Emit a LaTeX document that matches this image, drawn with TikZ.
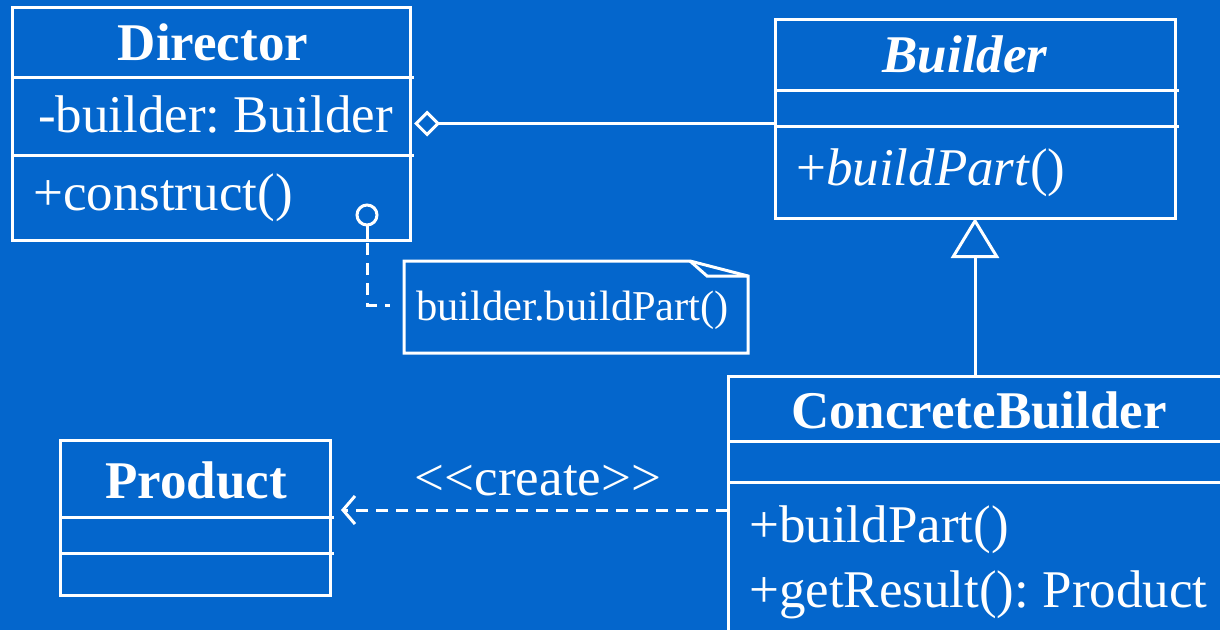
\documentclass[tikz,border=0pt]{standalone}
\usepackage{fontspec}
\setmainfont{Liberation Serif}
\usetikzlibrary{arrows.meta}
\definecolor{bgblue}{HTML}{0466CC}
\newcommand\umlsize{\fontsize{53}{60}\selectfont\frenchspacing}
\newcommand\notesize{\fontsize{42.5}{50}\selectfont}
\tikzset{
  wline/.style={draw=white, line width=3pt},
  umlbox/.style={wline, anchor=north west, inner sep=0pt, outer sep=0pt},
  umltext/.style={text=white, font=\umlsize, inner sep=0pt},
  dashline/.style={wline, dash pattern=on 12pt off 8pt}
}

\begin{document}
\begin{tikzpicture}[x=1pt,y=-1pt]
\fill [bgblue] (0,0) rectangle (1220,630);
\useasboundingbox (0,0) rectangle (1220,630);
\clip (0,0) rectangle (1220,630);
% class boxes
\node [umlbox, minimum width=398pt, minimum height=233pt] (director) at (12,7) {};
\node [umlbox, minimum width=400pt, minimum height=199pt] (builder) at (775,19) {};
\node [umlbox, minimum width=510pt, minimum height=270pt] (concrete) at (728,376) {};
\node [umlbox, minimum width=270pt, minimum height=155pt] (product) at (60,440) {};
% compartments
\draw [wline] (12,77) to (414,77);
\draw [wline] (12,155) to (414,155);
\draw [wline] (775,90) to (1179,90);
\draw [wline] (775,126) to (1179,126);
\draw [wline] (728,441) to (1220,441);
\draw [wline] (728,482) to (1220,482);
\draw [wline] (60,517) to (334,517);
\draw [wline] (60,553) to (334,553);
% texts
\node [umltext, anchor=base, font=\umlsize\bfseries] (dirname) at (213,60) {Director};
\node [umltext, anchor=base west] (dirattr) at (38,132) {-builder: Builder};
\node [umltext, anchor=base west] (dirop) at (33,210) {+construct()};
\node [umltext, anchor=base, font=\umlsize\bfseries\itshape] (bldname) at (965,72) {Builder};
\node [umltext, anchor=base west] (bldop) at (796,185) {+\textit{buildPart}()};
\node [umltext, anchor=base, font=\umlsize\bfseries] (cbname) at (979,428) {ConcreteBuilder};
\node [umltext, anchor=base west] (cbop1) at (749,542) {+buildPart()};
\node [umltext, anchor=base west] (cbop2) at (749,607) {+getResult(): Product};
\node [umltext, anchor=base, font=\umlsize\bfseries] (prodname) at (196,498) {Product};
% note
\draw [wline] (404,261) -- (690,261) -- (748,276) -- (748,353) -- (404,353) -- cycle;
\draw [wline] (690,261) -- (707,276) -- (748,276);
\node [umltext, anchor=base west, font=\notesize] (notetext) at (416,320) {builder.buildPart()};
\coordinate (noteleft) at (404,305);
\node [wline, circle, minimum size=20pt, inner sep=0pt, outer sep=0pt] (hook) at (367,215) {};
\draw [wline] (hook.south) to (hook.south |- director.south);
\draw [dashline] ([yshift=-3pt]hook.south |- director.south) -- (hook.south |- noteleft) coordinate (bend) -- ([xshift=-14pt]noteleft);
% relations
\draw [wline, {Diamond[open,fill=bgblue,length=26pt,width=26pt]}-] ([xshift=4pt]director.east) to (director.east -| builder.west);
\draw [wline, -{Triangle[open,fill=bgblue,length=40pt,width=48pt]}] (builder.south |- concrete.north) to (builder.south);
\draw [dashline, -{Straight Barb[length=12pt,width=28pt]}] (concrete.west |- 0,510) to ([xshift=11pt]product.east |- 0,510);
\node [umltext, anchor=base] (create) at (538,495) {<\kern0pt<create>\kern0pt>};
\end{tikzpicture}
\end{document}
